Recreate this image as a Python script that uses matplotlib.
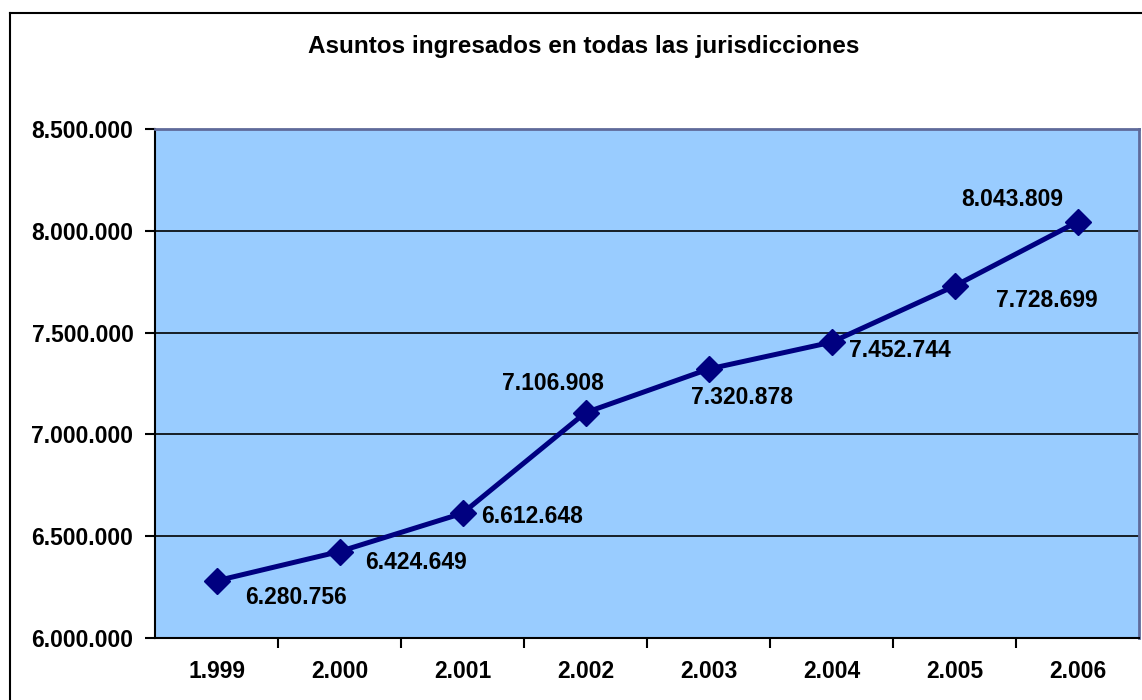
import matplotlib
matplotlib.use('Agg')
from matplotlib import pyplot as plt
from matplotlib.lines import Line2D
from matplotlib.ticker import FuncFormatter

plt.rcParams['font.family'] = ['Liberation Sans', 'DejaVu Sans']

anios = ['1.999', '2.000', '2.001', '2.002', '2.003', '2.004', '2.005', '2.006']
asuntos = [6280756, 6424649, 6612648, 7106908, 7320878, 7452744, 7728699, 8043809]

# desplazamiento de cada etiqueta respecto a su punto (pixeles)
desplaz = [(79, -17), (77, -11), (70, -3), (-33, 29), (34, -28), (68, -8), (92, -14), (-65, 22)]


def miles(v, pos):
    return '{:,.0f}'.format(v).replace(',', '.')


W, H = 1142, 700
fig = plt.figure(figsize=(W / 100, H / 100), dpi=100)
fig.patch.set_facecolor('white')

# marco exterior del grafico (recortado a la derecha y abajo)
fig.add_artist(Line2D([10 / W, 10 / W], [0, 1 - 13 / H], color='black', lw=1.5))
fig.add_artist(Line2D([10 / W, 1], [1 - 13 / H, 1 - 13 / H], color='black', lw=1.5))

ax = fig.add_axes([155 / W, 62 / H, 984 / W, 509 / H])
ax.set_facecolor('#99CCFF')

x = list(range(len(anios)))
ax.plot(x, asuntos, color='#000080', lw=3.6, marker='D', markersize=13.5, zorder=3)

for i in x:
    ax.annotate(miles(asuntos[i], None), (i, asuntos[i]), xytext=desplaz[i],
                textcoords='offset pixels', ha='center', va='center',
                fontsize=16.5, fontweight='bold', color='black', zorder=4)

ax.set_xlim(-0.5, len(anios) - 0.5)
ax.set_ylim(6000000, 8500000)
ax.set_yticks([6000000, 6500000, 7000000, 7500000, 8000000, 8500000])
ax.yaxis.set_major_formatter(FuncFormatter(miles))
ax.yaxis.grid(True, color='black', lw=1.2)
ax.set_axisbelow(True)

ax.set_xticks(x)
ax.set_xticklabels(anios)
ax.set_xticks([i + 0.5 for i in x[:-1]], minor=True)
ax.tick_params(axis='x', which='major', length=0, pad=16, labelsize=16.5)
ax.tick_params(axis='x', which='minor', length=7, width=1.5, direction='out')
ax.tick_params(axis='y', length=7, width=1.5, direction='out', pad=8.5, labelsize=16.5)
for lab in ax.get_xticklabels() + ax.get_yticklabels():
    lab.set_fontweight('bold')

ax.spines['left'].set_color('black')
ax.spines['left'].set_linewidth(1.5)
ax.spines['bottom'].set_color('black')
ax.spines['bottom'].set_linewidth(1.5)
ax.spines['top'].set_color('#5F6A9A')
ax.spines['top'].set_linewidth(2)
ax.spines['right'].set_color('#5F6A9A')
ax.spines['right'].set_linewidth(2)

fig.text(584 / W, 1 - 47 / H, 'Asuntos ingresados en todas las jurisdicciones',
         ha='center', va='center', fontsize=17.5, fontweight='bold')

fig.savefig('out.png', dpi=100)
